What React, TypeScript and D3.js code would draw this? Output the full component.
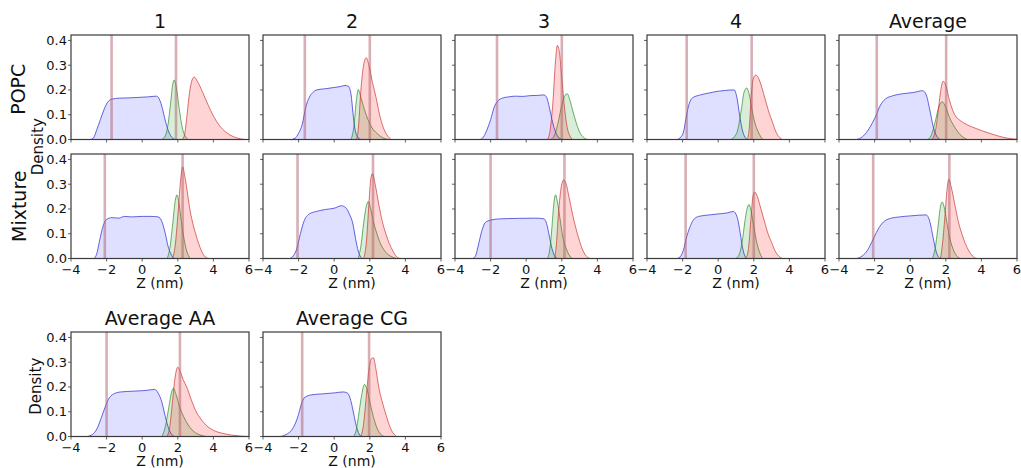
import React from 'react';
import * as d3 from 'd3';

type P = [number, number];

// ---------- tick data ----------
const xTicks = [-4, -2, 0, 2, 4, 6];
const xTickLabels = ['\u22124', '\u22122', '0', '2', '4', '6'];
const yTicks = [0, 0.1, 0.2, 0.3, 0.4];
const yTickLabels = ['0.0', '0.1', '0.2', '0.3', '0.4'];
const rowLabels = ['POPC', 'Mixture'];

// ---------- POPC row ----------
const popc1Blue: P[] = [[-2.9,0],[-2.75,0.005],[-2.55,0.04],[-2.35,0.08],[-2.15,0.12],[-1.95,0.15],[-1.7,0.163],[-1.3,0.167],[-0.8,0.168],[-0.2,0.17],[0.3,0.172],[0.8,0.175],[0.95,0.165],[1.1,0.135],[1.25,0.09],[1.4,0.05],[1.6,0.015],[1.85,0]];
const popc1Green: P[] = [[1.1,0],[1.3,0.015],[1.45,0.06],[1.6,0.15],[1.72,0.225],[1.8,0.24],[1.92,0.21],[2.07,0.13],[2.22,0.06],[2.38,0.018],[2.6,0]];
const popc1Red: P[] = [[2.25,0],[2.38,0.02],[2.52,0.1],[2.66,0.19],[2.8,0.24],[2.92,0.252],[3.1,0.235],[3.4,0.19],[3.7,0.14],[4.0,0.095],[4.3,0.06],[4.7,0.03],[5.1,0.012],[5.5,0.003],[5.8,0]];
const popc1Lines = [-1.72, 1.9];

const popc2Blue: P[] = [[-2.4,0],[-2.2,0.005],[-2.0,0.025],[-1.8,0.06],[-1.6,0.13],[-1.4,0.17],[-1.2,0.19],[-1.0,0.2],[-0.5,0.205],[0,0.21],[0.3,0.213],[0.6,0.218],[0.8,0.215],[0.95,0.18],[1.05,0.11],[1.15,0.05],[1.3,0.012],[1.5,0]];
const popc2Green: P[] = [[0.95,0],[1.1,0.05],[1.25,0.16],[1.35,0.202],[1.5,0.17],[1.7,0.12],[1.9,0.08],[2.1,0.05],[2.4,0.025],[2.7,0.008],[3.1,0]];
const popc2Red: P[] = [[1.25,0],[1.35,0.04],[1.5,0.2],[1.65,0.3],[1.8,0.33],[1.95,0.3],[2.15,0.23],[2.35,0.17],[2.55,0.1],[2.75,0.05],[2.95,0.02],[3.2,0]];
const popc2Lines = [-1.65, 2.0];

const popc3Blue: P[] = [[-2.6,0],[-2.4,0.01],[-2.2,0.04],[-2.0,0.08],[-1.8,0.13],[-1.6,0.155],[-1.3,0.168],[-1.0,0.172],[-0.6,0.175],[-0.2,0.174],[0.2,0.177],[0.6,0.178],[1.0,0.18],[1.15,0.17],[1.3,0.13],[1.45,0.08],[1.6,0.04],[1.8,0.01],[2.0,0]];
const popc3Green: P[] = [[1.4,0],[1.6,0.02],[1.8,0.07],[2.0,0.14],[2.2,0.18],[2.3,0.185],[2.45,0.16],[2.6,0.12],[2.8,0.07],[3.0,0.03],[3.2,0.01],[3.45,0]];
const popc3Red: P[] = [[1.2,0],[1.35,0.04],[1.5,0.15],[1.65,0.32],[1.75,0.38],[1.85,0.36],[2.0,0.25],[2.15,0.13],[2.3,0.05],[2.45,0.015],[2.6,0]];
const popc3Lines = [-1.64, 2.0];

const popc4Blue: P[] = [[-2.3,0],[-2.1,0.01],[-1.95,0.03],[-1.8,0.09],[-1.65,0.14],[-1.45,0.168],[-1.0,0.18],[-0.5,0.188],[0,0.195],[0.4,0.198],[0.7,0.2],[0.9,0.2],[1.05,0.17],[1.2,0.1],[1.35,0.04],[1.5,0.01],[1.65,0]];
const popc4Green: P[] = [[0.7,0],[0.9,0.01],[1.1,0.04],[1.3,0.12],[1.45,0.19],[1.6,0.208],[1.75,0.18],[1.9,0.12],[2.05,0.07],[2.25,0.03],[2.5,0]];
const popc4Red: P[] = [[1.65,0],[1.75,0.05],[1.85,0.17],[1.95,0.24],[2.1,0.26],[2.25,0.25],[2.45,0.21],[2.65,0.16],[2.85,0.11],[3.05,0.07],[3.25,0.03],[3.45,0.008],[3.6,0]];
const popc4Lines = [-1.77, 1.88];

const popcAvgBlue: P[] = [[-3.0,0],[-2.7,0.01],[-2.4,0.034],[-2.1,0.07],[-1.9,0.1],[-1.7,0.135],[-1.4,0.163],[-1.0,0.176],[-0.4,0.185],[0.2,0.19],[0.7,0.197],[0.9,0.18],[1.1,0.12],[1.3,0.05],[1.5,0.012],[1.7,0]];
const popcAvgGreen: P[] = [[1.0,0],[1.2,0.02],[1.4,0.07],[1.6,0.13],[1.8,0.152],[2.0,0.13],[2.2,0.09],[2.5,0.05],[2.8,0.02],[3.2,0]];
const popcAvgRed: P[] = [[1.2,0],[1.4,0.03],[1.55,0.1],[1.7,0.19],[1.85,0.235],[2.0,0.22],[2.2,0.16],[2.5,0.1],[2.8,0.077],[3.0,0.067],[3.5,0.05],[4.0,0.036],[4.5,0.024],[5.0,0.013],[5.5,0.005],[6.0,0.001]];
const popcAvgLines = [-1.88, 2.02];

// ---------- Mixture row ----------
const mix1Blue: P[] = [[-2.7,0],[-2.55,0.02],[-2.4,0.07],[-2.2,0.13],[-2.0,0.158],[-1.7,0.165],[-1.3,0.163],[-1.0,0.17],[-0.6,0.168],[0,0.17],[0.5,0.17],[0.9,0.168],[1.1,0.15],[1.3,0.1],[1.45,0.05],[1.6,0.02],[1.8,0]];
const mix1Green: P[] = [[1.4,0],[1.55,0.04],[1.7,0.13],[1.85,0.23],[1.95,0.257],[2.05,0.23],[2.2,0.15],[2.35,0.08],[2.5,0.03],[2.7,0]];
const mix1Red: P[] = [[1.7,0],[1.85,0.05],[2.0,0.17],[2.15,0.31],[2.27,0.37],[2.4,0.33],[2.55,0.26],[2.7,0.19],[2.85,0.14],[3.0,0.1],[3.2,0.055],[3.4,0.02],[3.7,0]];
const mix1Lines = [-2.1, 2.27];

const mix2Blue: P[] = [[-2.5,0],[-2.3,0.01],[-2.1,0.04],[-1.9,0.1],[-1.7,0.15],[-1.4,0.18],[-1.0,0.19],[-0.5,0.198],[0,0.203],[0.4,0.213],[0.65,0.205],[0.85,0.18],[1.05,0.14],[1.2,0.08],[1.35,0.03],[1.5,0.005],[1.6,0]];
const mix2Green: P[] = [[1.35,0],[1.5,0.05],[1.65,0.14],[1.8,0.21],[1.92,0.23],[2.05,0.2],[2.2,0.15],[2.4,0.1],[2.6,0.06],[2.9,0.025],[3.2,0.008],[3.5,0]];
const mix2Red: P[] = [[1.65,0],[1.8,0.06],[1.95,0.22],[2.05,0.32],[2.15,0.343],[2.3,0.3],[2.5,0.22],[2.7,0.15],[2.9,0.1],[3.1,0.06],[3.3,0.03],[3.5,0.008],[3.7,0]];
const mix2Lines = [-2.06, 2.18];

const mix3Blue: P[] = [[-3.0,0],[-2.85,0.01],[-2.7,0.05],[-2.5,0.11],[-2.3,0.145],[-2.0,0.155],[-1.5,0.16],[-0.5,0.162],[0.5,0.163],[1.0,0.16],[1.15,0.14],[1.3,0.09],[1.45,0.04],[1.6,0.01],[1.75,0]];
const mix3Green: P[] = [[1.2,0],[1.35,0.05],[1.45,0.13],[1.55,0.22],[1.65,0.257],[1.75,0.23],[1.9,0.16],[2.05,0.09],[2.25,0.04],[2.45,0.01],[2.6,0]];
const mix3Red: P[] = [[1.6,0],[1.7,0.06],[1.8,0.17],[1.95,0.28],[2.1,0.317],[2.25,0.3],[2.4,0.25],[2.6,0.18],[2.8,0.12],[3.0,0.07],[3.2,0.03],[3.4,0.008],[3.6,0]];
const mix3Lines = [-2.0, 2.15];

const mix4Blue: P[] = [[-2.3,0],[-2.1,0.01],[-1.95,0.035],[-1.8,0.08],[-1.6,0.125],[-1.4,0.155],[-1.1,0.17],[-0.5,0.176],[0,0.18],[0.5,0.184],[0.85,0.19],[1.05,0.17],[1.2,0.12],[1.35,0.05],[1.5,0.01],[1.6,0]];
const mix4Green: P[] = [[1.0,0],[1.2,0.02],[1.35,0.07],[1.5,0.15],[1.62,0.2],[1.73,0.218],[1.85,0.19],[2.0,0.13],[2.15,0.07],[2.3,0.03],[2.5,0]];
const mix4Red: P[] = [[1.55,0],[1.7,0.04],[1.85,0.17],[1.95,0.25],[2.05,0.268],[2.2,0.25],[2.4,0.2],[2.6,0.15],[2.8,0.1],[3.0,0.065],[3.2,0.03],[3.4,0.01],[3.6,0]];
const mix4Lines = [-1.83, 2.0];

const mixAvgBlue: P[] = [[-3.0,0],[-2.7,0.01],[-2.4,0.033],[-2.1,0.075],[-1.9,0.105],[-1.6,0.14],[-1.2,0.16],[-0.6,0.168],[0,0.172],[0.5,0.175],[0.9,0.176],[1.1,0.15],[1.3,0.08],[1.45,0.03],[1.6,0.005],[1.7,0]];
const mixAvgGreen: P[] = [[1.25,0],[1.4,0.04],[1.55,0.12],[1.7,0.21],[1.8,0.228],[1.9,0.21],[2.05,0.15],[2.2,0.09],[2.4,0.04],[2.6,0.012],[2.8,0]];
const mixAvgRed: P[] = [[1.7,0],[1.8,0.05],[1.95,0.17],[2.07,0.28],[2.17,0.32],[2.3,0.29],[2.5,0.22],[2.7,0.15],[2.9,0.1],[3.1,0.06],[3.3,0.03],[3.5,0.01],[3.7,0]];
const mixAvgLines = [-2.08, 2.2];

// ---------- Average AA / CG ----------
const aaBlue: P[] = [[-3.1,0],[-2.8,0.008],[-2.55,0.03],[-2.3,0.075],[-2.1,0.115],[-1.9,0.15],[-1.6,0.172],[-1.2,0.18],[-0.5,0.183],[0.2,0.186],[0.7,0.19],[0.9,0.175],[1.1,0.14],[1.3,0.08],[1.5,0.03],[1.7,0.005],[1.8,0]];
const aaGreen: P[] = [[1.1,0],[1.3,0.04],[1.5,0.12],[1.65,0.18],[1.75,0.195],[1.9,0.17],[2.1,0.12],[2.4,0.07],[2.7,0.035],[3.0,0.015],[3.3,0.005],[3.6,0]];
const aaRed: P[] = [[1.4,0],[1.55,0.04],[1.7,0.14],[1.85,0.24],[2.0,0.28],[2.15,0.26],[2.3,0.23],[2.5,0.2],[2.75,0.15],[3.0,0.105],[3.3,0.07],[3.6,0.045],[4.0,0.025],[4.5,0.013],[5.0,0.006],[5.5,0.002],[5.9,0]];
const aaLines = [-2.0, 2.12];

const cgBlue: P[] = [[-3.0,0],[-2.7,0.008],[-2.4,0.025],[-2.2,0.05],[-2.0,0.09],[-1.85,0.13],[-1.7,0.155],[-1.3,0.168],[-0.7,0.172],[0,0.176],[0.5,0.18],[0.75,0.175],[0.95,0.14],[1.1,0.09],[1.25,0.04],[1.4,0.01],[1.55,0]];
const cgGreen: P[] = [[1.1,0],[1.25,0.03],[1.4,0.1],[1.55,0.17],[1.7,0.21],[1.85,0.19],[2.0,0.14],[2.2,0.08],[2.4,0.035],[2.6,0.01],[2.8,0]];
const cgRed: P[] = [[1.5,0],[1.65,0.05],[1.8,0.16],[1.95,0.27],[2.1,0.315],[2.2,0.318],[2.35,0.27],[2.5,0.2],[2.7,0.14],[2.9,0.09],[3.1,0.045],[3.3,0.015],[3.5,0]];
const cgLines = [-1.8, 1.96];

const panels = [
  { title: '1', row: 0, col: 0, blue: popc1Blue, green: popc1Green, red: popc1Red, lines: popc1Lines },
  { title: '2', row: 0, col: 1, blue: popc2Blue, green: popc2Green, red: popc2Red, lines: popc2Lines },
  { title: '3', row: 0, col: 2, blue: popc3Blue, green: popc3Green, red: popc3Red, lines: popc3Lines },
  { title: '4', row: 0, col: 3, blue: popc4Blue, green: popc4Green, red: popc4Red, lines: popc4Lines },
  { title: 'Average', row: 0, col: 4, blue: popcAvgBlue, green: popcAvgGreen, red: popcAvgRed, lines: popcAvgLines },
  { title: '', row: 1, col: 0, blue: mix1Blue, green: mix1Green, red: mix1Red, lines: mix1Lines },
  { title: '', row: 1, col: 1, blue: mix2Blue, green: mix2Green, red: mix2Red, lines: mix2Lines },
  { title: '', row: 1, col: 2, blue: mix3Blue, green: mix3Green, red: mix3Red, lines: mix3Lines },
  { title: '', row: 1, col: 3, blue: mix4Blue, green: mix4Green, red: mix4Red, lines: mix4Lines },
  { title: '', row: 1, col: 4, blue: mixAvgBlue, green: mixAvgGreen, red: mixAvgRed, lines: mixAvgLines },
  { title: 'Average AA', row: 2, col: 0, blue: aaBlue, green: aaGreen, red: aaRed, lines: aaLines },
  { title: 'Average CG', row: 2, col: 1, blue: cgBlue, green: cgGreen, red: cgRed, lines: cgLines },
];

const W = 1021;
const H = 468;
const PW = 178;
const PH = 104.5;
const colX = (c: number) => 71 + c * 192;
const rowY = [35, 154, 332];
const FONT = 'DejaVu Sans, sans-serif';

const series = [
  { key: 'blue', fill: 'rgba(40,40,255,0.15)', stroke: 'rgba(50,50,210,0.75)' },
  { key: 'green', fill: 'rgba(0,140,0,0.15)', stroke: 'rgba(30,130,30,0.65)' },
  { key: 'red', fill: 'rgba(255,0,0,0.17)', stroke: 'rgba(200,40,40,0.65)' },
];

function Panel({ p }: { p: (typeof panels)[number] }) {
  const x0 = colX(p.col);
  const y0 = rowY[p.row];
  const x = d3.scaleLinear().domain([-4, 6]).range([x0, x0 + PW]);
  const y = d3.scaleLinear().domain([0, 0.422]).range([y0 + PH, y0]);
  const area = d3.area<P>().x(d => x(d[0])).y0(y(0)).y1(d => y(d[1])).curve(d3.curveMonotoneX);
  const line = d3.line<P>().x(d => x(d[0])).y(d => y(d[1])).curve(d3.curveMonotoneX);
  const showX = p.row >= 1;
  const showY = p.col === 0;
  const clipId = `clip-${p.row}-${p.col}`;
  return (
    <g>
      <defs>
        <clipPath id={clipId}>
          <rect x={x0} y={y0} width={PW} height={PH} />
        </clipPath>
      </defs>
      <g clipPath={`url(#${clipId})`}>
        {series.map(s => {
          const data = (p as any)[s.key] as P[];
          return (
            <g key={s.key}>
              <path d={area(data) || ''} fill={s.fill} />
              <path d={line(data) || ''} fill="none" stroke={s.stroke} strokeWidth={1} />
            </g>
          );
        })}
        {p.lines.map((v, i) => (
          <line key={i} x1={x(v)} x2={x(v)} y1={y0} y2={y0 + PH} stroke="#b0606a" strokeOpacity={0.5} strokeWidth={2.6} />
        ))}
      </g>
      <rect x={x0} y={y0} width={PW} height={PH} fill="none" stroke="#3a3a3a" strokeWidth={1.2} />
      {xTicks.map((t, i) => (
        <g key={'xt' + i}>
          <line x1={x(t)} x2={x(t)} y1={y0 + PH} y2={y0 + PH + 3} stroke="#3a3a3a" strokeWidth={0.8} />
          {showX && (
            <text x={x(t)} y={y0 + PH + 15} textAnchor="middle" fontSize={13} fontFamily={FONT} fill="#111">
              {xTickLabels[i]}
            </text>
          )}
        </g>
      ))}
      {yTicks.map((t, i) => (
        <g key={'yt' + i}>
          <line x1={x0 - 3} x2={x0} y1={y(t)} y2={y(t)} stroke="#3a3a3a" strokeWidth={0.8} />
          {showY && (
            <text x={x0 - 4} y={y(t) + 4.5} textAnchor="end" fontSize={13} fontFamily={FONT} fill="#111">
              {yTickLabels[i]}
            </text>
          )}
        </g>
      ))}
      {showX && (
        <text x={x0 + PW / 2} y={y0 + PH + 29} textAnchor="middle" fontSize={14} fontFamily={FONT} fill="#111">
          Z (nm)
        </text>
      )}
      {p.title && (
        <text x={x0 + PW / 2} y={y0 - 7} textAnchor="middle" fontSize={19} fontFamily={FONT} fill="#111">
          {p.title}
        </text>
      )}
    </g>
  );
}

export default function App() {
  return (
    <svg width={W} height={H} style={{ position: 'absolute', left: 0, top: 0, background: '#fff' }}>
      <rect x={0} y={0} width={W} height={H} fill="#fff" />
      {panels.map((p, i) => (
        <Panel key={i} p={p} />
      ))}
      <text transform={`translate(25,${rowY[0] + PH / 2 + 2}) rotate(-90)`} textAnchor="middle" fontSize={19} fontFamily={FONT} fill="#111">
        {rowLabels[0]}
      </text>
      <text transform={`translate(26,${rowY[1] + PH / 2}) rotate(-90)`} textAnchor="middle" fontSize={19} fontFamily={FONT} fill="#111">
        {rowLabels[1]}
      </text>
      <text transform={`translate(43,${(rowY[0] + PH + rowY[1]) / 2}) rotate(-90)`} textAnchor="middle" fontSize={15} fontFamily={FONT} fill="#111">
        Density
      </text>
      <text transform={`translate(41,${rowY[2] + PH / 2 + 2}) rotate(-90)`} textAnchor="middle" fontSize={15} fontFamily={FONT} fill="#111">
        Density
      </text>
    </svg>
  );
}
